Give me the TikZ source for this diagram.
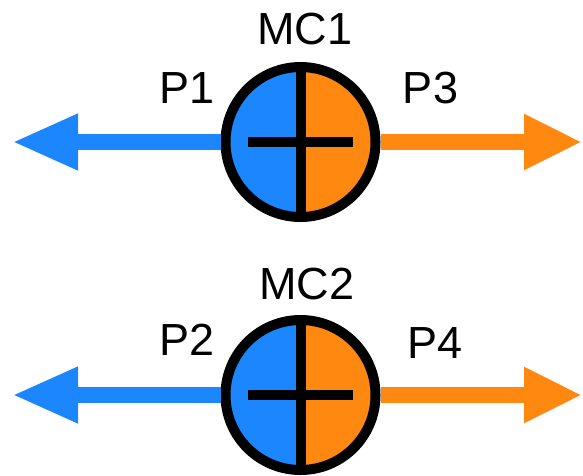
\documentclass[tikz,border=0pt]{standalone}
\usepackage{fontspec}
\setmainfont{Liberation Sans}
\usetikzlibrary{arrows.meta,calc,positioning}

\definecolor{mcblue}{RGB}{28,134,255}
\definecolor{mcorange}{RGB}{255,136,16}

\begin{document}
\begin{tikzpicture}[x=1pt,y=-1pt]
	\tikzstyle{every node}=[inner sep=0pt, font=\fontsize{45pt}{54pt}\selectfont]
	\tikzstyle{mc}=[circle, draw=black, line width=10pt, minimum size=150pt,
		path picture={
			\fill[mcblue] (path picture bounding box.south west) rectangle (path picture bounding box.north);
			\fill[mcorange] (path picture bounding box.north) rectangle (path picture bounding box.south east);
		}]
	\tikzstyle{mcbar}=[draw=black, line width=10pt]
	\tikzstyle{leftport}=[draw=mcblue, line width=16pt, -{Triangle[length=66pt,width=52pt]}]
	\tikzstyle{rightport}=[draw=mcorange, line width=16pt, -{Triangle[length=58pt,width=52pt]}]

	\useasboundingbox (0,0) rectangle (583,475);

	% mixing circuits
	\node[mc] (mc1) at (300.5,142) {};
	\node[mc] (mc2) at (300.5,395) {};

	% free ends of the ports
	\coordinate (p1end) at (12,142);
	\coordinate (p3end) at (582,142);
	\coordinate (p2end) at (12,395);
	\coordinate (p4end) at (582,395);

	\draw[leftport] (mc1.west) -- (p1end);
	\draw[rightport] (mc1.east) -- (p3end);
	\draw[leftport] (mc2.west) -- (p2end);
	\draw[rightport] (mc2.east) -- (p4end);

	% plus signs
	\draw[mcbar] (mc1.north) -- (mc1.south);
	\draw[mcbar] ([xshift=-52.5pt]mc1.center) -- ([xshift=52.5pt]mc1.center);
	\draw[mcbar] (mc2.north) -- (mc2.south);
	\draw[mcbar] ([xshift=-52.5pt]mc2.center) -- ([xshift=52.5pt]mc2.center);

	% labels
	\node (mc1lbl) at (305,29) {MC1};
	\node (p1lbl) at (187.5,88) {P1};
	\node (p3lbl) at (430.5,88) {P3};
	\node (mc2lbl) at (307,284) {MC2};
	\node (p2lbl) at (187.5,339.5) {P2};
	\node (p4lbl) at (435,343) {P4};
\end{tikzpicture}
\end{document}
